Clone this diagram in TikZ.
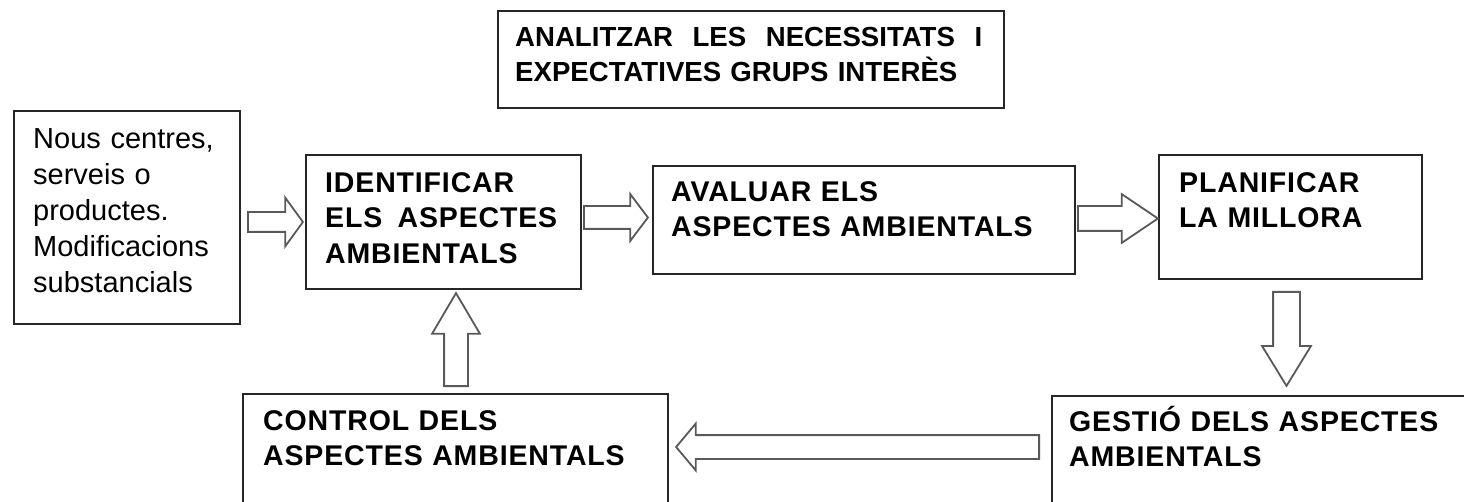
\documentclass[tikz,border=0pt]{standalone}
\usepackage{fontspec}
\setmainfont{Liberation Sans}
\usetikzlibrary{shapes.arrows}

\tikzset{
  box/.style={draw=black!85, line width=2pt, anchor=north west, inner sep=0pt},
  boxtext/.style={anchor=north west, inner sep=0pt, align=left,
    font=\fontsize{28.5}{35.5}\selectfont\bfseries\addfontfeature{LetterSpace=3}},
  plaintext/.style={anchor=north west, inner sep=0pt, align=left,
    font=\fontsize{29}{36}\selectfont},
  blockarr/.style={single arrow, draw=black!65, line width=1.8pt, fill=white,
    inner xsep=0pt, minimum width=0pt, minimum height=#1, anchor=tail},
}

\begin{document}
\begin{tikzpicture}[x=1pt, y=-1pt]
    \useasboundingbox (0,0) rectangle (1464,502);

    % boxes
    \node[box, minimum width=506pt, minimum height=97pt] (analitzar) at (497,10) {};
    \node[box, minimum width=226pt, minimum height=213pt] (nous) at (13,110) {};
    \node[box, minimum width=275pt, minimum height=134pt] (ident) at (305,154) {};
    \node[box, minimum width=422pt, minimum height=108pt] (avaluar) at (652,165) {};
    \node[box, minimum width=263pt, minimum height=124pt] (planif) at (1158,154) {};
    \node[box, minimum width=425pt, minimum height=170pt] (control) at (242,393) {};
    \node[box, minimum width=449pt, minimum height=170pt] (gestio) at (1051,395) {};

    % texts
    \node[boxtext, text width=467pt, font=\fontsize{27.6}{35}\selectfont\bfseries] (analitzarT)
        at ([shift={(18,17)}]analitzar.north west)
        {ANALITZAR\hfill LES\hfill NECESSITATS\hfill I\\EXPECTATIVES GRUPS INTERÈS};
    \node[plaintext, text width=200pt] (nousT) at ([shift={(20,18)}]nous.north west)
        {Nous centres,\\serveis o\\productes.\\Modificacions\\substancials};
    \node[boxtext, text width=232pt] (identT) at ([shift={(20,18)}]ident.north west)
        {IDENTIFICAR\\ELS\hfill ASPECTES\\AMBIENTALS};
    \node[boxtext, text width=400pt] (avaluarT) at ([shift={(19,16)}]avaluar.north west)
        {AVALUAR ELS\\ASPECTES AMBIENTALS};
    \node[boxtext, text width=230pt] (planifT) at ([shift={(21,18)}]planif.north west)
        {PLANIFICAR\\LA MILLORA};
    \node[boxtext, text width=400pt] (controlT) at ([shift={(21,17)}]control.north west)
        {CONTROL DELS\\ASPECTES AMBIENTALS};
    \node[boxtext, text width=390pt] (gestioT) at ([shift={(18,11)}]gestio.north west)
        {GESTIÓ DELS ASPECTES\\AMBIENTALS};

    % block arrows
    \node[blockarr=55pt, inner ysep=9pt, single arrow head extend=14.5pt,
          single arrow tip angle=108] (a1) at (247,222) {};
    \node[blockarr=64pt, inner ysep=10.5pt, single arrow head extend=12pt,
          single arrow tip angle=106] (a2) at (583,217.5) {};
    \node[blockarr=80pt, inner ysep=11.5pt, single arrow head extend=12pt,
          single arrow tip angle=68] (a3) at (1077,218.5) {};
    \node[blockarr=94pt, inner xsep=12.5pt, inner ysep=0pt, single arrow head extend=11pt,
          single arrow tip angle=63, shape border rotate=270] (a4) at (1286.5,291) {};
    \node[blockarr=363pt, inner ysep=11pt, single arrow head extend=11.5pt,
          single arrow tip angle=100, shape border rotate=180] (a5) at (1040,447) {};
    \node[blockarr=93pt, inner xsep=11pt, inner ysep=0pt, single arrow head extend=12pt,
          single arrow tip angle=61, shape border rotate=90] (a6) at (456,387) {};
\end{tikzpicture}
\end{document}
